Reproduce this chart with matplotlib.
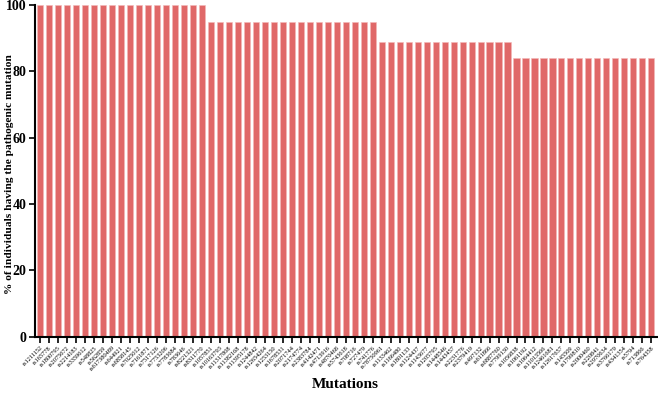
import matplotlib.pyplot as plt

mutations = [
    'rs1211152', 'rs165778', 'rs1800795', 'rs2075672', 'rs2214183', 'rs3359612',
    'rs548825', 'rs562859', 'rs617380489', 'rs644921', 'rs6858145', 'rs7025012',
    'rs7161871', 'rs7517126', 'rs7753206', 'rs7783684', 'rs783646', 'rs8221321',
    'rs8311770',
    'rs1057851', 'rs10163793', 'rs11317808', 'rs11382168', 'rs11395178', 'rs1244842',
    'rs12654264', 'rs1253150', 'rs1678531', 'rs2071744', 'rs2174774', 'rs2383784',
    'rs4142471', 'rs4713916', 'rs4870468', 'rs5743618', 'rs708716', 'rs727479',
    'rs741776',
    'rs78750961', 'rs1133462', 'rs1166480', 'rs1801133', 'rs1124437', 'rs1143677',
    'rs1205795', 'rs1448546', 'rs1443457', 'rs2231776', 'rs2379419', 'rs497132',
    'rs611866', 'rs6887760', 'rs7799130',
    'rs1056838', 'rs1061192', 'rs1064412', 'rs11013566', 'rs12461681',
    'rs12617657', 'rs145509', 'rs1799810', 'rs2000460', 'rs220841', 'rs2970634',
    'rs3766179', 'rs4341354', 'rs5794', 'rs713866', 'rs764358',
]
percent = [100] * 19 + [95] * 19 + [89] * 15 + [84] * 16

plt.rcParams['font.family'] = ['Liberation Serif', 'DejaVu Serif']

fig = plt.figure(figsize=(6.58, 3.93), dpi=100)
ax = fig.add_axes([0.053, 0.143, 0.945, 0.844])

x = range(len(mutations))
ax.bar(x, percent, width=0.68, color='#E06868', edgecolor='#F4B8B8', linewidth=0.4)

ax.set_xlim(-0.6, len(mutations) - 0.4)
ax.set_ylim(0, 100)
ax.set_yticks([0, 20, 40, 60, 80, 100])
ax.set_xticks(list(x))
ax.set_xticklabels(mutations, rotation=45, ha='right', rotation_mode='anchor', fontsize=4.6)
for lbl in ax.get_yticklabels():
    lbl.set_fontweight('bold')
    lbl.set_fontsize(10)

ax.spines['top'].set_visible(False)
ax.spines['right'].set_visible(False)
ax.spines['left'].set_linewidth(1.5)
ax.spines['bottom'].set_linewidth(1.5)
ax.tick_params(axis='both', direction='out', length=4, width=1.2, color='black')
ax.tick_params(axis='x', pad=2)
ax.tick_params(axis='y', pad=2)

ax.set_ylabel('% of individuals having the pathogenic mutation', fontsize=8.2, fontweight='bold')
ax.yaxis.set_label_coords(-0.034, 0.49)
ax.set_xlabel('Mutations', fontsize=11, fontweight='bold', labelpad=4)

plt.savefig('out.png', dpi=100)
